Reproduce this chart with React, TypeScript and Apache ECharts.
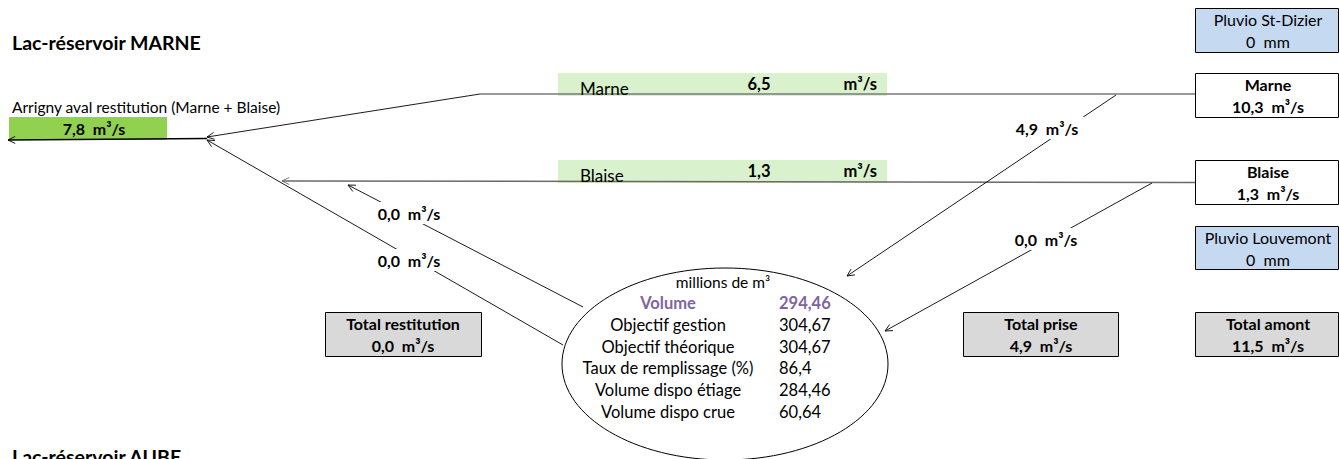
import React, { useEffect, useRef } from "react";
import * as echarts from "echarts";

// ---- data ----
const titleTop = "Lac-réservoir MARNE";
const titleBottom = "Lac-réservoir AUBE";
const avalName = "Arrigny aval restitution (Marne + Blaise)";
const avalFlow = [7.8];
const gaugeNames = ["Marne", "Blaise"];
const gaugeFlows = [10.3, 1.3];
const pluvioNames = ["Pluvio St-Dizier", "Pluvio Louvemont"];
const pluvioMm = [0, 0];
const canalNames = ["Marne", "Blaise"];
const canalFlows = [6.5, 1.3];
const priseFlows = [4.9, 0.0];
const restitutionFlows = [0.0, 0.0];
const totalNames = ["Total restitution", "Total prise", "Total amont"];
const totalFlows = [0.0, 4.9, 11.5];
const reservoirUnit = "millions de m³";
const reservoirLabels = [
  "Volume",
  "Objectif gestion",
  "Objectif théorique",
  "Taux de remplissage (%)",
  "Volume dispo étiage",
  "Volume dispo crue",
];
const reservoirValues = [294.46, 304.67, 304.67, 86.4, 284.46, 60.64];
const reservoirDecimals = [2, 2, 2, 1, 2, 2];

const FONT = "Lato, 'Liberation Sans', sans-serif";
const fmt = (v: number, d: number) => v.toFixed(d).replace(".", ",");
const flow = (v: number) => fmt(v, 1) + "  m³/s";

function txt(
  text: string,
  x: number,
  y: number,
  opts: { size?: number; bold?: boolean; align?: string; color?: string; z?: number } = {}
) {
  const size = opts.size ?? 16;
  const align = opts.align ?? "center";
  return {
    type: "text",
    z: opts.z ?? 30,
    style: {
      text,
      x,
      y,
      font: `${opts.bold ? "bold " : ""}${size}px ${FONT}`,
      fill: opts.color ?? "#000",
      align,
      textAlign: align,
      verticalAlign: "middle",
      textVerticalAlign: "middle",
    },
  };
}

function rect(x: number, y: number, w: number, h: number, fill: string, stroke?: string, z = 10) {
  return {
    type: "rect",
    z,
    shape: { x, y, width: w, height: h },
    style: { fill, stroke: stroke ?? null, lineWidth: stroke ? 1 : 0 },
  };
}

function line(pts: number[][], color = "#000", width = 0.9, arrow = false, z = 20) {
  const els: any[] = [
    { type: "polyline", z, shape: { points: pts }, style: { stroke: color, lineWidth: width, fill: null } },
  ];
  if (arrow) {
    const [x1, y1] = pts[pts.length - 2];
    const [x2, y2] = pts[pts.length - 1];
    const a = Math.atan2(y2 - y1, x2 - x1);
    const L = 8;
    const s = 0.45;
    const p1 = [x2 - L * Math.cos(a - s), y2 - L * Math.sin(a - s)];
    const p2 = [x2 - L * Math.cos(a + s), y2 - L * Math.sin(a + s)];
    els.push({
      type: "polyline",
      z,
      shape: { points: [p1, [x2, y2], p2] },
      style: { stroke: color, lineWidth: 0.9, fill: null },
    });
  }
  return els;
}

function flowLabel(text: string, cx: number, cy: number) {
  return [rect(cx - 40, cy - 11, 80, 22, "#fff", undefined, 25), txt(text, cx, cy, { bold: true })];
}

function box(x: number, y: number, w: number, h: number, fill: string, l1: string, l2: string, bold1: boolean, bold2: boolean, cx: number) {
  return [
    { ...rect(x + 0.5, y + 0.5, w, h, fill, "#000", 10) },
    txt(l1, cx, y + 11, { bold: bold1 }),
    txt(l2, cx, y + 33, { bold: bold2 }),
  ];
}

function buildGraphics() {
  const g: any[] = [];
  // titles
  g.push(txt(titleTop, 12, 42, { size: 19.5, bold: true, align: "left" }));
  g.push(txt(titleBottom, 12, 456, { size: 19.5, bold: true, align: "left" }));
  g.push(txt(avalName, 12, 107, { size: 15.5, align: "left" }));

  // aval bar
  g.push(rect(9, 117, 158, 23, "#92d050"));
  g.push(txt(flow(avalFlow[0]), 94, 128, { bold: true }));

  // canal bars
  const barY = [73, 160];
  canalNames.forEach((n, i) => {
    g.push(rect(558, barY[i], 329, 23, "#d9f1cc"));
    g.push(txt(n, 580, barY[i] + 15, { align: "left", size: 17 }));
    g.push(txt(fmt(canalFlows[i], 1), 759, barY[i] + 11, { bold: true, size: 16.5 }));
    g.push(txt("m³/s", 877, barY[i] + 11, { bold: true, align: "right", size: 16.5 }));
  });

  // flow lines
  g.push(...line([[1195, 94], [480, 94]], "#7a7a7a", 1.5));
  g.push(...line([[480, 94], [207, 137]], "#000", 0.9, true));
  g.push(...line([[207, 138.5], [8, 140]], "#000", 1.4, true));
  g.push(...line([[1195, 182.5], [282, 181]], "#6a6a6a", 1.5, true));
  g.push(...line([[1116, 95], [847, 276]], "#000", 0.9, true));
  g.push(...line([[1152, 183], [885, 331]], "#000", 0.9, true));
  g.push(...line([[583, 307], [348, 185]], "#000", 0.9, true));
  g.push(...line([[563, 345], [207, 140]], "#000", 0.9, true));

  // flow labels
  g.push(...flowLabel(flow(priseFlows[0]), 1047, 128));
  g.push(...flowLabel(flow(priseFlows[1]), 1046, 239));
  g.push(...flowLabel(flow(restitutionFlows[0]), 409, 213));
  g.push(...flowLabel(flow(restitutionFlows[1]), 409, 260));

  // right boxes
  g.push(...box(1195, 8, 143, 44, "#c5d9f1", pluvioNames[0], `${pluvioMm[0]}  mm`, false, false, 1268));
  g.push(...box(1195, 73, 143, 44, "#fff", gaugeNames[0], flow(gaugeFlows[0]), true, true, 1268));
  g.push(...box(1195, 160, 143, 44, "#fff", gaugeNames[1], flow(gaugeFlows[1]), true, true, 1268));
  g.push(...box(1195, 226, 143, 43, "#c5d9f1", pluvioNames[1], `${pluvioMm[1]}  mm`, false, false, 1268));
  g.push(...box(1195, 312, 143, 44, "#d9d9d9", totalNames[2], flow(totalFlows[2]), true, true, 1268));
  g.push(...box(963, 312, 155, 44, "#d9d9d9", totalNames[1], flow(totalFlows[1]), true, true, 1041));
  g.push(...box(325, 312, 156, 44, "#d9d9d9", totalNames[0], flow(totalFlows[0]), true, true, 403));

  // reservoir ellipse
  g.push({
    type: "ellipse",
    z: 22,
    shape: { cx: 725, cy: 364, rx: 163, ry: 96 },
    style: { fill: "#fff", stroke: "#000", lineWidth: 1 },
  });
  g.push(txt(reservoirUnit, 723, 282, { size: 15.5 }));
  reservoirLabels.forEach((lab, i) => {
    const y = 303 + i * 21.8;
    const first = i === 0;
    const color = first ? "#8064a2" : "#000";
    g.push(txt(lab, 668, y, { bold: first, color, size: 16.5 }));
    g.push(txt(fmt(reservoirValues[i], reservoirDecimals[i]), 779, y, { bold: first, color, align: "left", size: 16.5 }));
  });
  return g;
}

export default function App() {
  const ref = useRef<HTMLDivElement>(null);
  useEffect(() => {
    if (!ref.current) return;
    const chart = echarts.init(ref.current, null, { renderer: "svg" });
    chart.setOption({
      animation: false,
      backgroundColor: "#fff",
      graphic: { elements: buildGraphics() },
    });
    return () => chart.dispose();
  }, []);
  return (
    <div
      ref={ref}
      style={{ position: "fixed", left: 0, top: 0, width: 1339, height: 459, background: "#fff" }}
    />
  );
}
